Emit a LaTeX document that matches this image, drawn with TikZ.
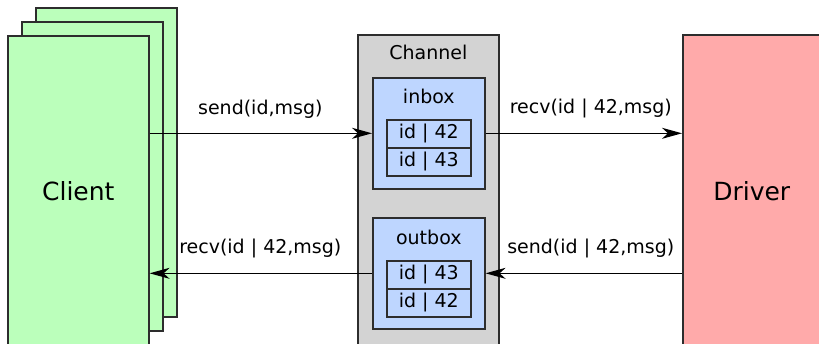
\documentclass[tikz,border=0pt]{standalone}
\usepackage{fontspec}
\setmainfont{DejaVu Sans}
\usepackage{tikz}
\usetikzlibrary{arrows.meta,positioning}
\definecolor{chGreen}{RGB}{187,255,187}
\definecolor{chRed}{RGB}{255,170,170}
\definecolor{chGray}{RGB}{211,211,211}
\definecolor{chBlue}{RGB}{190,214,255}
\definecolor{chLine}{RGB}{45,45,45}

\begin{document}
\begin{tikzpicture}[
  x=0.5pt, y=-0.5pt,
  font=\fontsize{9.5}{11}\selectfont,
  actor/.style={draw=chLine, line width=0.8pt, anchor=north west, inner sep=0pt,
    minimum width=70.5pt, minimum height=154.5pt, font=\fontsize{12.5}{14}\selectfont},
  box/.style={draw=chLine, line width=0.8pt, fill=chBlue, anchor=north west, inner sep=0pt,
    minimum width=56pt, minimum height=55.5pt},
  cell/.style={draw=chLine, line width=0.8pt, fill=chBlue, inner sep=0pt,
    minimum width=42pt, minimum height=14pt},
  ttl/.style={anchor=base},
  msg/.style={-{Stealth[length=10pt,width=5.5pt,inset=3pt]}, line width=0.7pt},
  lbl/.style={above=4pt}
]
\clip (0,0) rectangle (819,343);

%============ CLIENTS ============
\node[actor, fill=chGreen] (cl3) at (35,7) {};
\node[actor, fill=chGreen] (cl2) at (21,21) {};
\node[actor, fill=chGreen, minimum height=155pt] (cl1) at (7,35) {Client};

%============ CHANNEL ============
\node[actor, fill=chGray, minimum height=160pt] (ch) at (357,34) {};
\node[ttl] (chT) at ([yshift=-12.5pt]ch.north) {Channel};
% inbox
\node[box] (in) at (372,77) {};
\node[ttl] (inT) at ([yshift=-13pt]in.north) {inbox};
\node[cell, anchor=north] (in1) at ([yshift=-21pt]in.north) {id | 42};
\node[cell, below=-0.8pt of in1] (in2) {id | 43};
% outbox
\node[box] (out) at (372,217) {};
\node[ttl] (outT) at ([yshift=-13.5pt]out.north) {outbox};
\node[cell, anchor=north] (out1) at ([yshift=-21.5pt]out.north) {id | 43};
\node[cell, below=-0.8pt of out1] (out2) {id | 42};

%============ DRIVER ============
\node[actor, fill=chRed, minimum width=69pt, minimum height=156pt] (drv) at (682,34) {Driver};

%============ MESSAGES ============
\draw[msg] (cl1.east |- in.west) -- (in.west);
\draw[msg] (in.east) -- (drv.west |- in.east);
\draw[msg] (drv.west |- out.east) -- (out.east);
\draw[msg] (out.west) -- (cl1.east |- out.west);
\path (cl2.east |- in.west) -- node[lbl] (m1) {send(id,msg)} (ch.west |- in.west);
\path (ch.east |- in.east) -- node[lbl] (m2) {recv(id | 42,msg)} (drv.west |- in.east);
\path (ch.east |- out.east) -- node[lbl] (m3) {send(id | 42,msg)} (drv.west |- out.east);
\path (cl2.east |- out.west) -- node[lbl] (m4) {recv(id | 42,msg)} (ch.west |- out.west);
\end{tikzpicture}
\end{document}
